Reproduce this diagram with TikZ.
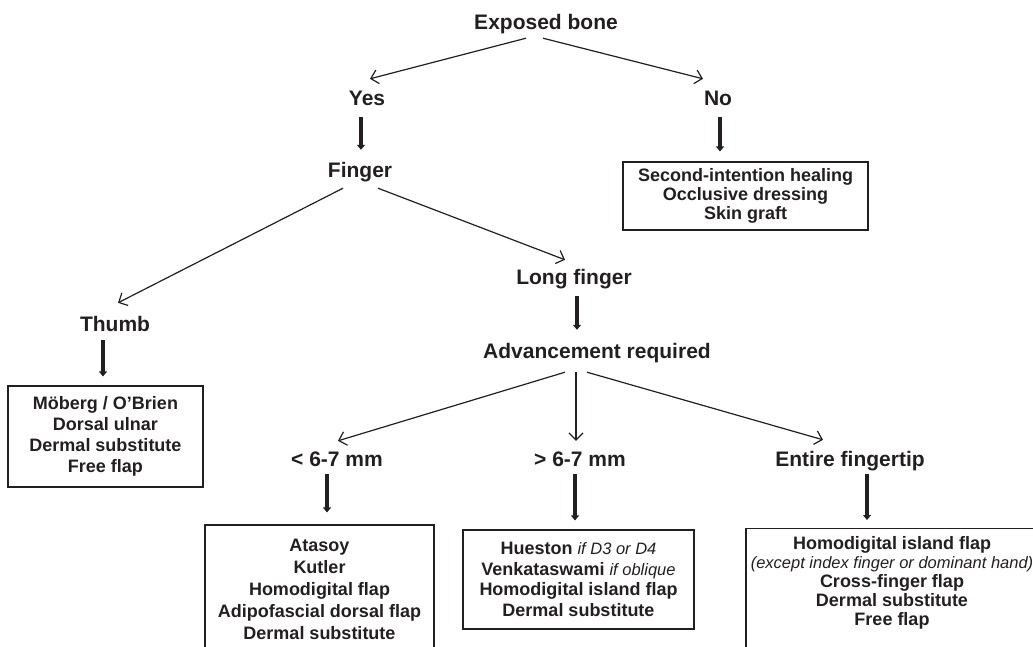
\documentclass[tikz,border=0pt]{standalone}
\usepackage{fontspec}
\setmainfont{Liberation Sans}
\usetikzlibrary{arrows.meta,calc,positioning}
\definecolor{ink}{HTML}{231F20}
\newcommand{\treatfont}[1]{\fontsize{18}{#1}\selectfont\bfseries}
\newcommand{\note}[1]{{\fontsize{16.5}{20}\selectfont\mdseries\itshape #1}}
\tikzset{
  head/.style={font=\fontsize{21}{25}\selectfont\bfseries,inner sep=0,anchor=base,text height=15pt,text depth=4.5pt},
  box/.style={draw,line width=1.1pt,align=center,inner sep=0,font=\treatfont{21}},
  thin arrow/.style={line width=1.2pt,-{Straight Barb[length=7pt,width=14pt]}},
  thick arrow/.style={line width=4.5pt,-{Triangle[length=5pt,width=8pt]}},
}
\begin{document}
\begin{tikzpicture}[x=1pt,y=-1pt,color=ink]
\useasboundingbox(0,0)rectangle(1033,646);

%questions
\node[head](eb)at(546,29){Exposed bone};
\node[head](yes)at(367,105){Yes};
\node[head](no)at(718,105){No};
\node[head](finger)at(360,177){Finger};
\node[head](thumb)at(115,331){Thumb};
\node[head](long)at(574,284){Long finger};
\node[head](adv)at(597,358){Advancement required};
\node[head](lt)at(337,466){< 6-7 mm};
\node[head](gt)at(580,466){> 6-7 mm};
\node[head](tip)at(850,466){Entire fingertip};

%treatments
\node[box,minimum width=245pt,minimum height=68pt,font=\treatfont{19}](noBox)at(745.5,196){Second-intention healing\\Occlusive dressing\\Skin graft};
\node[box,minimum width=195pt,minimum height=101pt](thumbBox)at(105.5,436.5){Möberg / O’Brien\\Dorsal ulnar\\Dermal substitute\\Free flap};
\node[box,minimum width=229pt,minimum height=128pt,font=\treatfont{22}](ltBox)at(319.5,589){Atasoy\\Kutler\\Homodigital flap\\Adipofascial dorsal flap\\Dermal substitute};
\node[box,minimum width=231pt,minimum height=99pt,font=\treatfont{20.5}](gtBox)at(578.5,579.5){Hueston \note{if D3 or D4}\\Venkataswami \note{if oblique}\\Homodigital island flap\\Dermal substitute};
\node[box,minimum width=292pt,minimum height=130pt,anchor=north](tipBox)at(892,528){};
\node[box,draw=none,anchor=north,font=\treatfont{19}](tipText)at($(tipBox.north)+(0,8)$){Homodigital island flap\\\note{(except index finger or dominant hand)}\\Cross-finger flap\\Dermal substitute\\Free flap};

%thin arrows
\draw[thin arrow]($(eb.south)+(-20,4.5)$)--($(yes.north)+(3,-11)$);
\draw[thin arrow]($(eb.south)+(-3,4.5)$)--($(no.north)+(-15,-11)$);
\draw[thin arrow]($(finger.south)+(-17,6.5)$)--($(thumb.north)+(3,-13)$);
\draw[thin arrow]($(finger.south)+(18,6.5)$)--($(long.north)+(-9,-9)$);
\draw[thin arrow]($(adv.south)+(-32,9.5)$)--($(lt.north)+(1,-10)$);
\draw[thin arrow]($(adv.south)+(-21,9.5)$)--($(gt.north)+(-4,-10)$);
\draw[thin arrow]($(adv.south)+(-10,9.5)$)--($(tip.north)+(-27,-11)$);

%thick arrows
\draw[thick arrow]($(yes.south)+(-6,7.5)$)--($(finger.north)+(1,-12)$);
\draw[thick arrow]($(no.south)+(2,7.5)$)--($(noBox.north)+(-25.5,-10)$);
\draw[thick arrow]($(thumb.south)+(-12,4.5)$)--($(thumbBox.north)+(-2.5,-9)$);
\draw[thick arrow]($(long.south)+(3,7.5)$)--($(adv.north)+(-20,-13)$);
\draw[thick arrow]($(lt.south)+(-10,3.5)$)--($(ltBox.north)+(7.5,-12)$);
\draw[thick arrow]($(gt.south)+(-5,3.5)$)--($(gtBox.north)+(-3.5,-9)$);
\draw[thick arrow]($(tip.south)+(17,3.5)$)--($(tipBox.north)+(-25,-8)$);

\end{tikzpicture}
\end{document}
